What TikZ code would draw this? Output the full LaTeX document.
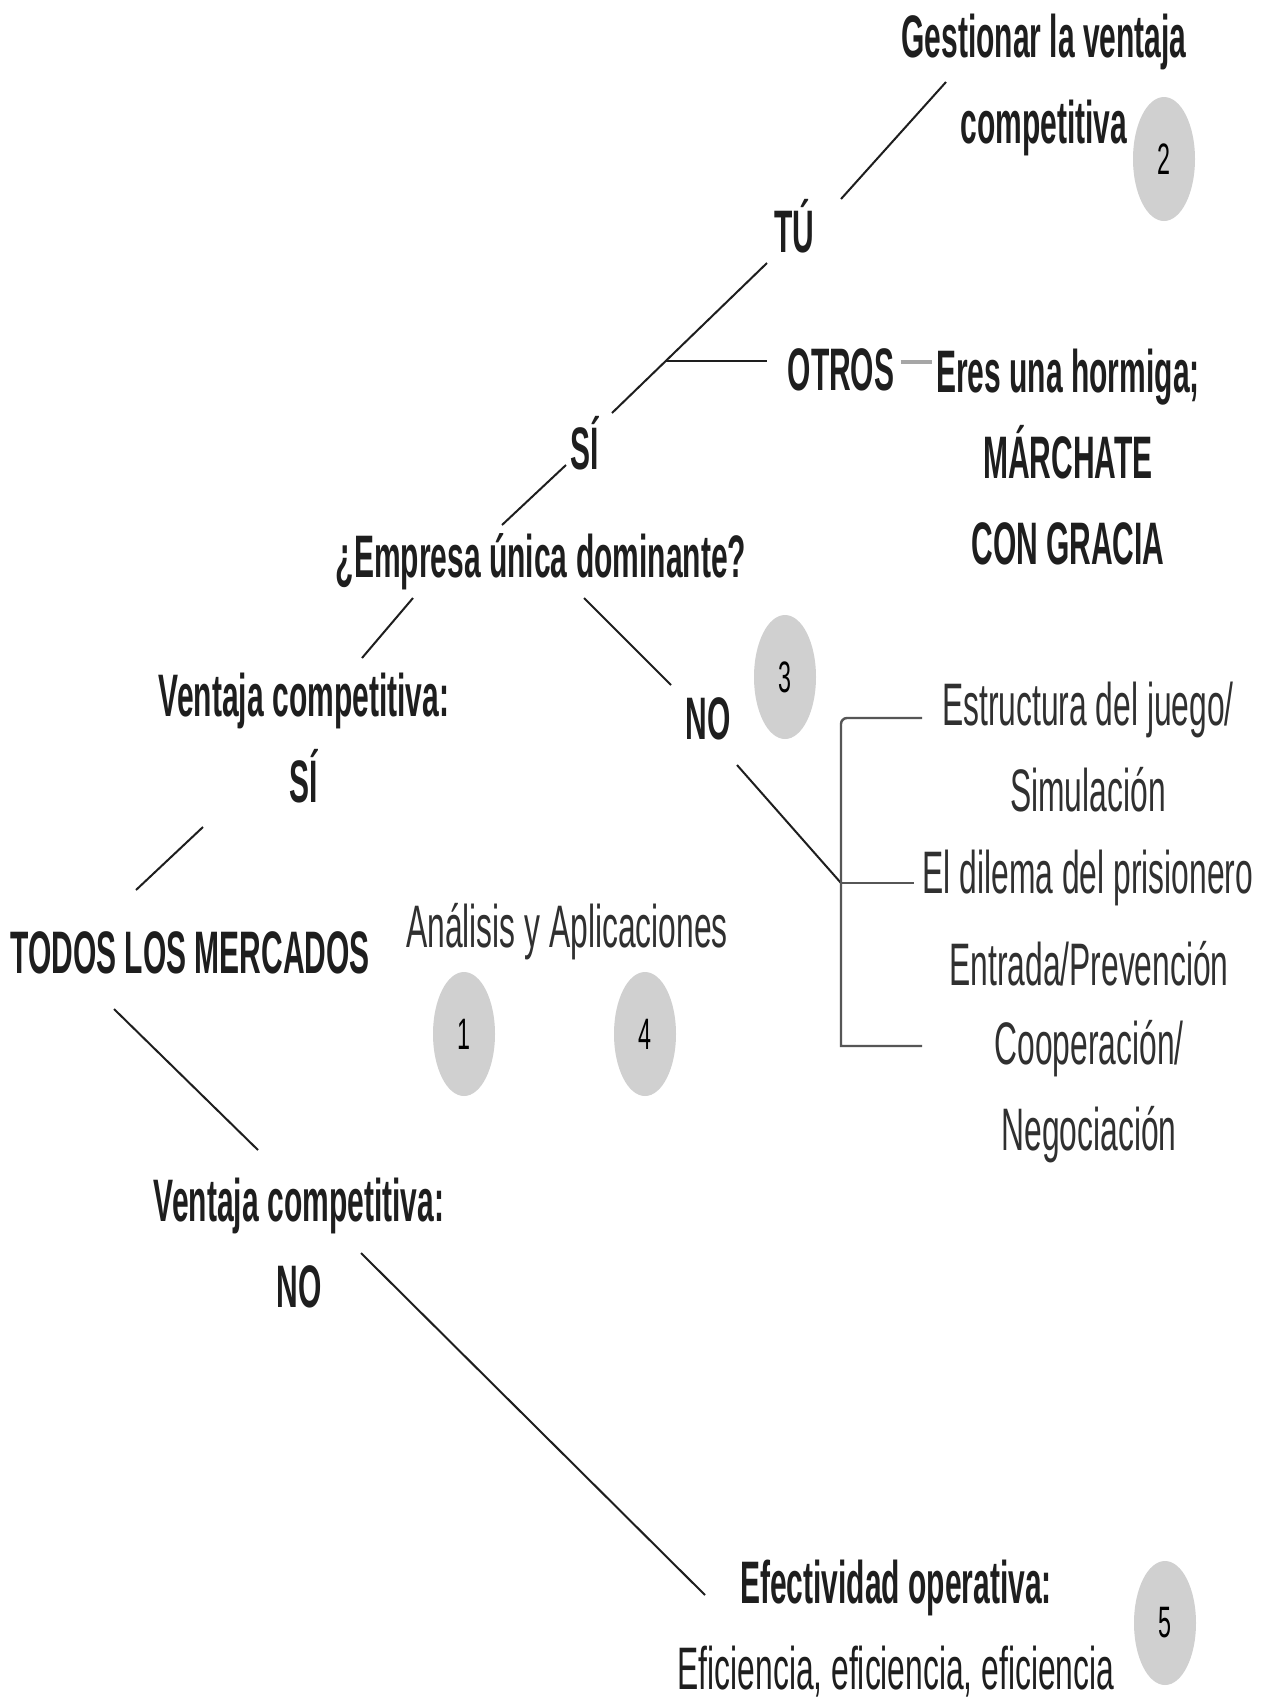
\documentclass[tikz,border=0pt]{standalone}
\usepackage{fontspec}
\setmainfont[FakeStretch=0.53, BoldFeatures={FakeStretch=0.5}]{Liberation Sans}
\usetikzlibrary{calc,shapes.geometric}
\definecolor{dot}{RGB}{208,208,208}
\definecolor{ink}{RGB}{30,30,30}
\tikzset{
  hd/.style={font=\fontsize{30}{43}\selectfont\bfseries, text=ink, align=center, inner sep=0pt},
  lt/.style={font=\fontsize{30}{43}\selectfont, text=ink!92, align=center, inner sep=0pt},
  num/.style={ellipse, fill=dot, minimum width=31pt, minimum height=62pt, inner sep=0pt, font=\fontsize{22}{24}\selectfont},
  ln/.style={draw=ink, line width=1pt},
  br/.style={draw=ink!75, line width=1.2pt},
  gl/.style={draw=gray!70, line width=2pt},
}
\begin{document}
\begin{tikzpicture}[x=0.5pt, y=-0.5pt]
\fill[white] (0,0) rectangle (1267,1705);
\useasboundingbox (0,0) rectangle (1267,1705);
\node[hd] (gest) at (1044,85) {Gestionar la ventaja\\competitiva};
\node[num] (n2) at (1164,159) {2};
\node[hd] (tu) at (794,226) {TÚ};
\node[hd] (otros) at (841,370) {OTROS};
\node[hd] (horm) at (1068,457) {Eres una hormiga;\\MÁRCHATE\\CON GRACIA};
\node[hd] (si) at (585,443) {SÍ};
\node[hd] (emp) at (541,562) {¿Empresa única dominante?};
\node[hd] (vsi) at (304,738) {Ventaja competitiva:\\SÍ};
\node[hd] (no) at (708,719) {NO};
\node[num] (n3) at (785,677) {3};
\node[lt] (estr) at (1088,747) {Estructura del juego/\\Simulación};
\node[lt] (dil) at (1088,878) {El dilema del prisionero};
\node[lt] (ent) at (1089,964) {Entrada/Prevención};
\node[lt] (coop) at (1089,1092) {Cooperación/\\Negociación};
\node[hd] (todos) at (190,953) {TODOS LOS MERCADOS};
\node[lt] (ana) at (567,932) {Análisis y Aplicaciones};
\node[num] (n1) at (464,1034) {1};
\node[num] (n4) at (645,1034) {4};
\node[hd] (vno) at (299,1243) {Ventaja competitiva:\\NO};
\node[hd] (efe) at (896,1629) {Efectividad operativa:\\{\mdseries Eficiencia, eficiencia, eficiencia}};
\node[num] (n5) at (1165,1623) {5};

\draw[ln] ([shift={(47,-27)}]tu.center) -- ([shift={(-98,-3)}]gest.center);
\draw[ln] ([shift={(27,-30)}]si.center) -- ([shift={(-27,37)}]tu.center);
\coordinate (fork) at ([shift={(81,-82)}]si.center);
\draw[ln] (fork) -- ($(otros.west |- fork)+(-20,0)$);
\draw[gl] ($(otros.east)+(6,-8)$) -- ($(otros.east -| horm.west)+(-4,-8)$);
\draw[ln] ([shift={(-39,-37)}]emp.center) -- ([shift={(-19,22)}]si.center);
\draw[ln] ([shift={(58,-80)}]vsi.center) -- ([shift={(-128,36)}]emp.center);
\draw[ln] ([shift={(43,36)}]emp.center) -- ([shift={(-37,-34)}]no.center);
\draw[ln] ([shift={(-54,-63)}]todos.center) -- ([shift={(-101,89)}]vsi.center);
\coordinate (btop) at (841,718);
\coordinate (bmid) at (841,883);
\coordinate (bbot) at (841,1046);
\draw[ln] ([shift={(29,46)}]no.center) -- (bmid);
\draw[br] ($(btop)+(81,0)$) [rounded corners=3pt] -- (btop) [sharp corners] -- (bbot) -- ($(bbot)+(81,0)$);
\draw[br] (bmid) -- ($(bmid)+(73,0)$);
\draw[ln] ([shift={(-76,56)}]todos.center) -- ([shift={(-41,-93)}]vno.center);
\draw[ln] ([shift={(62,10)}]vno.center) -- ([shift={(-191,-34)}]efe.center);
\end{tikzpicture}
\end{document}
